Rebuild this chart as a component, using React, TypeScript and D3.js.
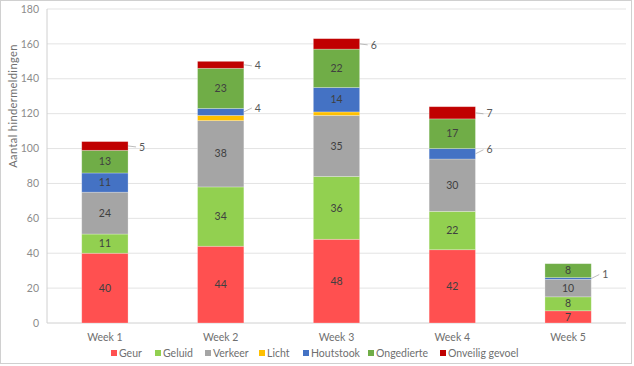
import React from 'react';
import * as d3 from 'd3';

const weeks = ['Week 1', 'Week 2', 'Week 3', 'Week 4', 'Week 5'];
const seriesNames = ['Geur', 'Geluid', 'Verkeer', 'Licht', 'Houtstook', 'Ongedierte', 'Onveilig gevoel'];
const geur = [40, 44, 48, 42, 7];
const geluid = [11, 34, 36, 22, 8];
const verkeer = [24, 38, 35, 30, 10];
const licht = [0, 3, 2, 0, 0];
const houtstook = [11, 4, 14, 6, 1];
const ongedierte = [13, 23, 22, 17, 8];
const onveilig = [5, 4, 6, 7, 0];
const colors = ['#FF5050', '#92D050', '#A5A5A5', '#FFC000', '#4472C4', '#70AD47', '#C00000'];
const yTicks = [0, 20, 40, 60, 80, 100, 120, 140, 160, 180];

const W = 634;
const H = 366;
const margin = { left: 47, right: 8, top: 9, bottom: 43 };
const font = 'Lato, "DejaVu Sans", sans-serif';

const App: React.FC = () => {
  const values = [geur, geluid, verkeer, licht, houtstook, ongedierte, onveilig];
  const rows = weeks.map((w, i) => {
    const r: Record<string, number | string> = { week: w };
    seriesNames.forEach((s, k) => (r[s] = values[k][i]));
    return r;
  });
  const stack = d3.stack<Record<string, number | string>>().keys(seriesNames)(rows as any);

  const x = d3.scaleBand().domain(weeks).range([margin.left, W - margin.right]).paddingInner(0.6).paddingOuter(0.3);
  const y = d3.scaleLinear().domain([0, 180]).range([H - margin.bottom, margin.top]);

  const labels: React.ReactNode[] = [];
  stack.forEach((layer, k) => {
    layer.forEach((d, i) => {
      const v = d[1] - d[0];
      if (v <= 0 || k === 3) return;
      const x0 = x(weeks[i])!;
      const bw = x.bandwidth();
      const mid = y((d[0] + d[1]) / 2);
      const h = y(d[0]) - y(d[1]);
      if (h >= 12 && k !== 6) {
        labels.push(
          <text key={`l${k}-${i}`} x={x0 + bw / 2} y={mid} dy="0.35em" textAnchor="middle" fontSize={10.5} fill="#404040" fontFamily={font}>
            {v}
          </text>
        );
      } else {
        const ly = k === 4 ? mid - 4 : mid + 1;
        labels.push(
          <g key={`o${k}-${i}`}>
            <line x1={x0 + bw} y1={mid} x2={x0 + bw + 8} y2={ly} stroke="#a6a6a6" strokeWidth={0.75} />
            <text x={x0 + bw + 11} y={ly} dy="0.35em" fontSize={10.5} fill="#595959" fontFamily={font}>
              {v}
            </text>
          </g>
        );
      }
    });
  });

  const legendX = [114, 158, 208, 262, 306, 371, 443];

  return (
    <svg width={W} height={H} style={{ position: 'absolute', left: 0, top: 0, background: '#fff' }}>
      <rect x={0.5} y={0.5} width={W - 3} height={H - 3} fill="#fff" stroke="#d0d0d0" />
      {yTicks.map((t) => (
        <g key={t}>
          {t > 0 && (
            <line x1={margin.left} x2={W - margin.right} y1={y(t)} y2={y(t)} stroke="#e3e3e3" strokeWidth={1} />
          )}
          <text x={margin.left - 8} y={y(t)} dy="0.35em" textAnchor="end" fontSize={10.5} fill="#8c8c8c" fontFamily={font}>
            {t}
          </text>
        </g>
      ))}
      <line x1={margin.left} x2={margin.left} y1={margin.top} y2={y(0)} stroke="#d0d0d0" />
      <line x1={margin.left} x2={W - margin.right} y1={y(0)} y2={y(0)} stroke="#d0d0d0" />
      {stack.map((layer, k) => (
        <g key={k} fill={colors[k]}>
          {layer.map((d, i) =>
            d[1] - d[0] > 0 ? (
              <rect
                key={i}
                x={x(weeks[i])}
                y={y(d[1])}
                width={x.bandwidth()}
                height={y(d[0]) - y(d[1])}
                stroke="#ffffff"
                strokeOpacity={0.35}
                strokeWidth={0.75}
              />
            ) : null
          )}
        </g>
      ))}
      {labels}
      {weeks.map((w) => (
        <text key={w} x={x(w)! + x.bandwidth() / 2} y={337} dy="0.35em" textAnchor="middle" fontSize={10.5} fill="#6f6f6f" fontFamily={font}>
          {w}
        </text>
      ))}
      <text transform="translate(13,106) rotate(-90)" textAnchor="middle" dy="0.35em" fontSize={11} letterSpacing={0.4} fill="#6f6f6f" fontFamily={font}>
        Aantal hindermeldingen
      </text>
      {seriesNames.map((s, k) => (
        <g key={s}>
          <rect x={legendX[k] - 3} y={350} width={6} height={6} fill={colors[k]} />
          <text x={legendX[k] + 5} y={353} dy="0.35em" fontSize={10.5} fill="#6f6f6f" fontFamily={font}>
            {s}
          </text>
        </g>
      ))}
    </svg>
  );
};

export default App;
